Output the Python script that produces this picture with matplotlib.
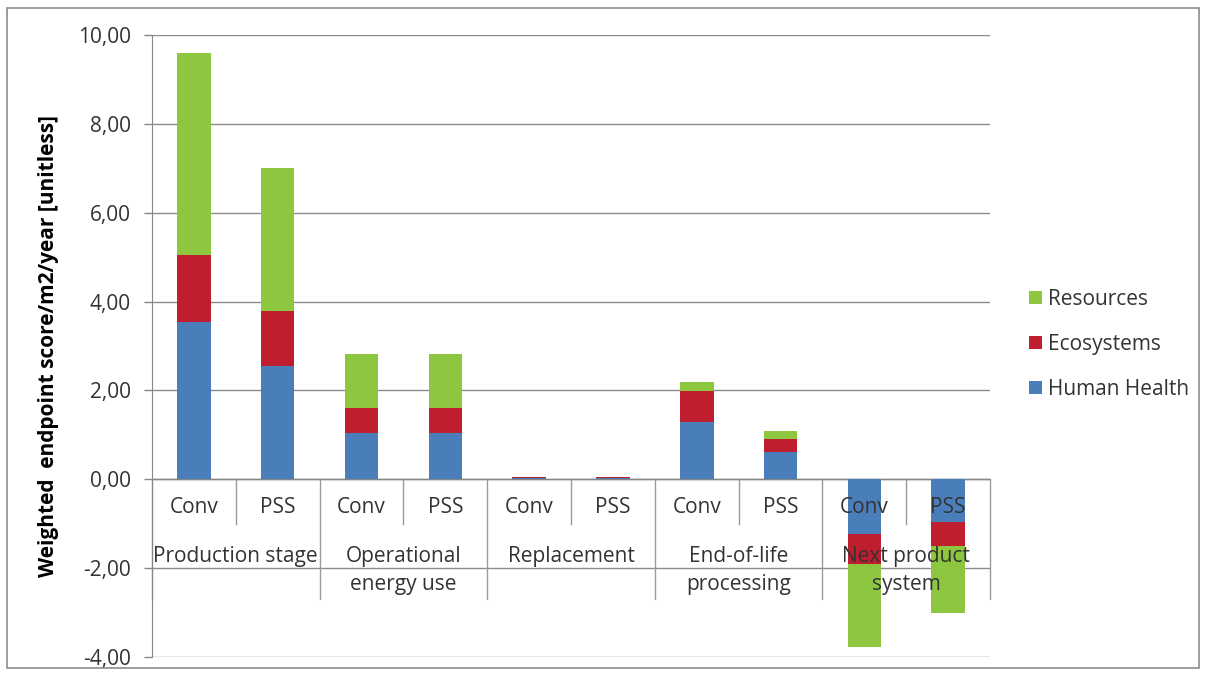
import numpy as np
import matplotlib.pyplot as plt
from matplotlib.patches import Rectangle

plt.rcParams['font.family'] = ['Open Sans', 'DejaVu Sans']

stages = ['Production stage', 'Operational\nenergy use', 'Replacement',
          'End-of-life\nprocessing', 'Next product\nsystem']
variants = ['Conv', 'PSS']

# one value per bar: Conv, PSS for each stage
human_health = [3.55, 2.56, 1.05, 1.05, 0.03, 0.03, 1.29, 0.61, -1.24, -0.97]
ecosystems = [1.50, 1.22, 0.55, 0.55, 0.01, 0.01, 0.69, 0.29, -0.67, -0.53]
resources = [4.55, 3.22, 1.23, 1.23, 0.01, 0.01, 0.22, 0.19, -1.87, -1.50]

c_hh = '#4A7EBB'
c_eco = '#BE1E2D'
c_res = '#8DC63F'

fig = plt.figure(figsize=(12.06, 6.75), dpi=100)
ax = fig.add_axes([0.126, 0.0267, 0.695, 0.9215])

x = np.arange(len(human_health))
hh = np.array(human_health)
eco = np.array(ecosystems)
res = np.array(resources)
w = 0.4

ax.bar(x, hh, w, color=c_hh, label='Human Health', zorder=3)
ax.bar(x, eco, w, bottom=hh, color=c_eco, label='Ecosystems', zorder=3)
ax.bar(x, res, w, bottom=hh + eco, color=c_res, label='Resources', zorder=3)

ax.set_xlim(-0.5, len(x) - 0.5)
ax.set_ylim(-4, 10)
ax.set_yticks(np.arange(-4, 11, 2))
ax.set_yticklabels([f'{v:.2f}'.replace('.', ',') for v in np.arange(-4, 11, 2)],
                   fontsize=15, color='#333333')
ax.tick_params(axis='y', length=6, width=1, color='#868686', pad=9)
ax.set_xticks([])
ax.grid(axis='y', color='#8c8c8c', linewidth=1, zorder=0)
for s in ['top', 'right', 'bottom']:
    ax.spines[s].set_visible(False)
ax.spines['left'].set_color('#868686')
ax.set_ylabel('Weighted  endpoint score/m2/year [unitless]', fontsize=15,
              fontweight='bold', labelpad=14)

# category axis drawn at y = 0
ax.axhline(0, color='#868686', linewidth=1, zorder=2)
for i in range(len(x) + 1):
    xb = i - 0.5
    if i % 2 == 0:
        ax.plot([xb, xb], [0, -2.7], color='#9a9a9a', linewidth=1, zorder=2, clip_on=False)
    else:
        ax.plot([xb, xb], [0, -1.0], color='#9a9a9a', linewidth=1, zorder=2)
for i in x:
    ax.text(i, -0.63, variants[i % 2], ha='center', va='center', fontsize=15,
            color='#333333', zorder=4)
for j, st in enumerate(stages):
    ax.text(2 * j + 0.5, -1.5, st, ha='center', va='top', fontsize=15,
            color='#333333', linespacing=1.45, zorder=4)

handles, labels = ax.get_legend_handles_labels()
fig.legend(handles[::-1], labels[::-1], loc='center left',
           bbox_to_anchor=(0.838, 0.49), frameon=False, fontsize=15,
           handlelength=0.6, handleheight=0.6, handletextpad=0.3,
           labelspacing=1.15, labelcolor='#333333')

fig.patches.append(Rectangle((0.006, 0.01), 0.988, 0.978, transform=fig.transFigure,
                             fill=False, edgecolor='#8c8c8c', linewidth=1.2))

fig.savefig('out.png', dpi=100)
